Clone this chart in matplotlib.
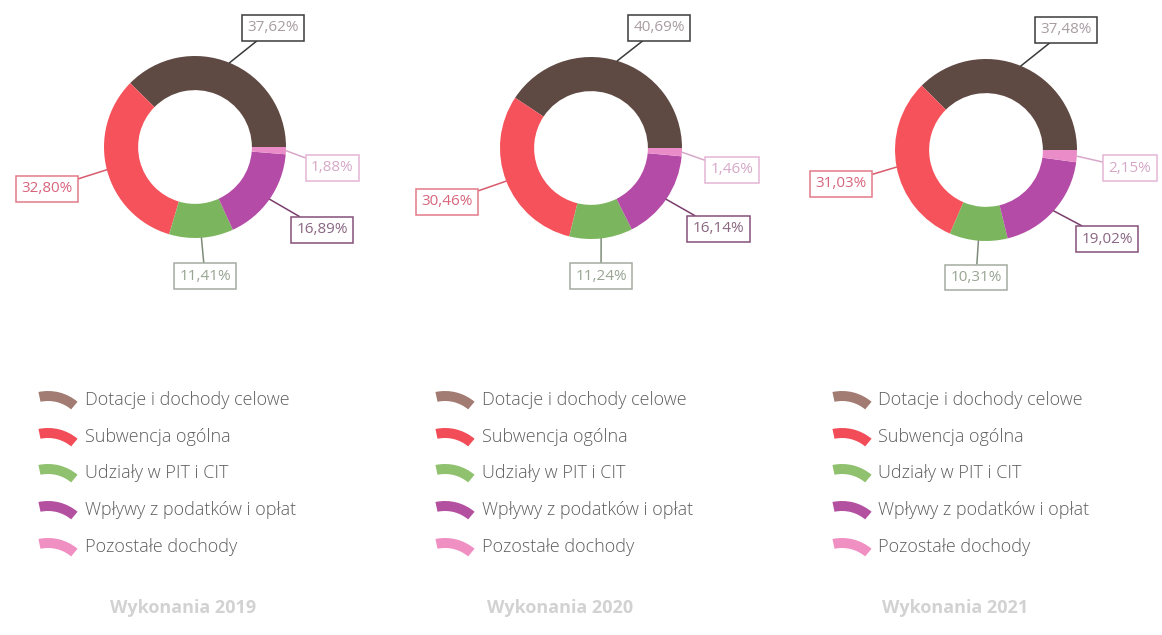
import matplotlib
matplotlib.use("Agg")
import matplotlib.pyplot as plt
from matplotlib.patches import Wedge
import numpy as np

# ---------------- data ----------------
categories = ["Dotacje i dochody celowe", "Subwencja ogólna", "Udziały w PIT i CIT",
              "Wpływy z podatków i opłat", "Pozostałe dochody"]
years = ["Wykonania 2019", "Wykonania 2020", "Wykonania 2021"]
values_2019 = [37.62, 32.80, 11.41, 16.89, 1.28]
values_2020 = [40.69, 30.46, 11.24, 16.14, 1.46]
values_2021 = [37.48, 31.03, 10.31, 19.02, 2.15]
labels_2019 = ["37,62%", "32,80%", "11,41%", "16,89%", "1,88%"]
labels_2020 = ["40,69%", "30,46%", "11,24%", "16,14%", "1,46%"]
labels_2021 = ["37,48%", "31,03%", "10,31%", "19,02%", "2,15%"]

all_values = [values_2019, values_2020, values_2021]
all_labels = [labels_2019, labels_2020, labels_2021]

# ---------------- styles / layout ----------------
slice_colors = ["#5f4943", "#f5525b", "#7bb65e", "#b44ba6", "#ea8cc8"]
legend_colors = ["#a27c72", "#f14c57", "#8fc16e", "#b3509f", "#f08fc2"]
box_edge = ["#3a3a3a", "#e27a88", "#a4aca2", "#86507a", "#e4b6d4"]
label_text = ["#a89ca2", "#d7657d", "#98a592", "#8a6682", "#d6a8c8"]
line_colors = ["#3a3a3a", "#d85a6c", "#7f8c78", "#7a3e6c", "#d8a8c8"]

W, H = 1162, 635
R = 91.0
centers = [(195, 147), (591, 148), (986, 150)]
# label box centres in units of the radius, relative to donut centre
label_pos = [
    [(0.86, 1.31), (-1.63, -0.46), (0.11, -1.42), (1.40, -0.91), (1.51, -0.23)],
    [(0.75, 1.32), (-1.58, -0.59), (0.11, -1.41), (1.40, -0.89), (1.55, -0.24)],
    [(0.88, 1.32), (-1.59, -0.37), (-0.11, -1.40), (1.33, -0.98), (1.58, -0.20)],
]
legend_icon_x = [38, 435, 832]
legend_text_x = [85, 482, 878]
legend_rows_y = [400, 437, 473, 510, 547]
title_x = [183, 560, 955]
title_y = 608

plt.rcParams['font.family'] = ['Open Sans', 'DejaVu Sans']
fig = plt.figure(figsize=(W / 100, H / 100), dpi=100)
fig.patch.set_facecolor("white")

for k, (cx, cy) in enumerate(centers):
    ax = fig.add_axes([(cx - 2 * R) / W, (H - cy - 2 * R) / H, 4 * R / W, 4 * R / H])
    wedges, _ = ax.pie(all_values[k], radius=1.0, startangle=0, counterclock=True,
                       colors=slice_colors,
                       wedgeprops=dict(width=0.375, edgecolor="none"))
    ax.set_xlim(-2, 2)
    ax.set_ylim(-2, 2)
    ax.set_aspect("equal")
    ax.axis("off")
    for i, w in enumerate(wedges):
        ang = np.deg2rad((w.theta1 + w.theta2) / 2)
        xy = (np.cos(ang), np.sin(ang))
        ax.annotate(all_labels[k][i], xy=xy, xytext=label_pos[k][i],
                    ha="center", va="center", fontsize=11, color=label_text[i],
                    annotation_clip=False,
                    bbox=dict(boxstyle="square,pad=0.35", fc="white", ec=box_edge[i], lw=1.1),
                    arrowprops=dict(arrowstyle="-", color=line_colors[i], lw=1.1,
                                    shrinkA=0, shrinkB=0))

# overlay for legends and titles (pixel coordinates, y up)
ov = fig.add_axes([0, 0, 1, 1])
ov.set_xlim(0, W)
ov.set_ylim(0, H)
ov.axis("off")
ov.set_zorder(-1)

for k in range(3):
    for i, cat in enumerate(categories):
        py = legend_rows_y[i]
        ix = legend_icon_x[k]
        wcx, wcy = ix + 10, H - (py - 9 + 46)
        ov.add_patch(Wedge((wcx, wcy), 46, 50, 102, width=10,
                           facecolor=legend_colors[i], edgecolor="none"))
        ov.text(legend_text_x[k], H - py, cat, fontsize=13, color="#5e5e5e",
                ha="left", va="center", fontweight="light")
    ov.text(title_x[k], H - title_y, years[k], fontsize=13, color="#d2d2d2",
            ha="center", va="center", fontweight="bold")

fig.savefig("out.png", dpi=100, facecolor="white")
